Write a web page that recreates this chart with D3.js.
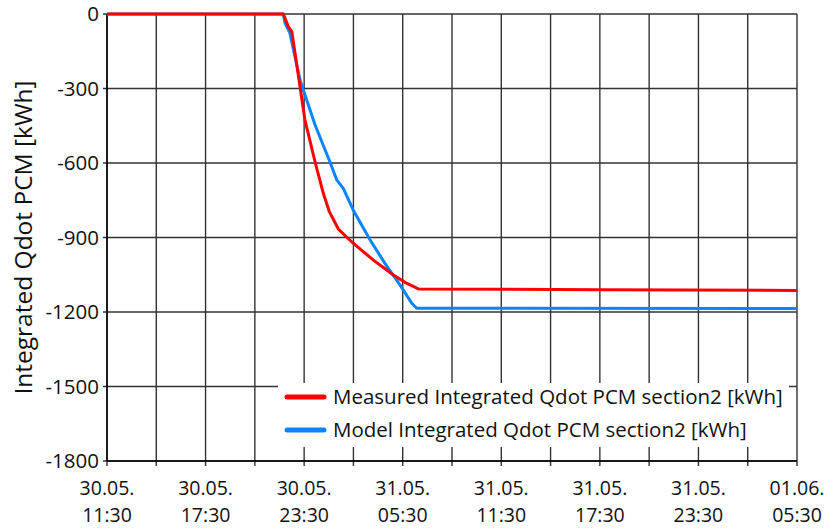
<!DOCTYPE html>
<html>
<head>
<meta charset="utf-8">
<script src="https://cdn.jsdelivr.net/npm/d3@7"></script>
<style>
  html, body { margin: 0; padding: 0; background: #fff; }
  svg { display: block; font-family: "Open Sans", "Noto Sans", sans-serif; }
</style>
</head>
<body>
<svg id="chart" width="837" height="529"></svg>
<script>
// Integrated heat flow of the PCM storage, section 2: measurement vs. model
const measuredTimes = [
  "2023-05-30T11:30", "2023-05-30T22:14", "2023-05-30T22:32", "2023-05-30T22:45",
  "2023-05-30T23:15", "2023-05-30T23:33", "2023-05-31T00:10", "2023-05-31T00:40",
  "2023-05-31T01:02", "2023-05-31T01:35", "2023-05-31T02:29", "2023-05-31T03:43",
  "2023-05-31T04:56", "2023-05-31T05:44", "2023-05-31T06:27", "2023-05-31T17:30",
  "2023-06-01T05:30"
];
const measuredValues = [
  0, 0, -51, -71,
  -293, -427, -596, -722,
  -796, -866, -923, -991,
  -1051, -1084, -1107, -1110,
  -1113
];
const modelTimes = [
  "2023-05-30T11:30", "2023-05-30T22:14", "2023-05-30T22:20", "2023-05-30T22:38",
  "2023-05-30T23:15", "2023-05-30T23:27", "2023-05-31T00:10", "2023-05-31T01:04",
  "2023-05-31T01:29", "2023-05-31T01:53", "2023-05-31T02:29", "2023-05-31T03:31",
  "2023-05-31T04:25", "2023-05-31T05:20", "2023-05-31T06:03", "2023-05-31T06:21",
  "2023-06-01T05:30"
];
const modelValues = [
  0, 0, -36, -77,
  -266, -306, -447, -595,
  -668, -702, -789, -910,
  -1004, -1091, -1165, -1185,
  -1186
];
const seriesNames = [
  "Measured Integrated Qdot PCM section2 [kWh]",
  "Model Integrated Qdot PCM section2 [kWh]"
];
const seriesColors = ["#ff0000", "#0a84ff"];
const yTicks = [0, -300, -600, -900, -1200, -1500, -1800];
const xLabelTimes = [
  "2023-05-30T11:30", "2023-05-30T17:30", "2023-05-30T23:30", "2023-05-31T05:30",
  "2023-05-31T11:30", "2023-05-31T17:30", "2023-05-31T23:30", "2023-06-01T05:30"
];
const yTitle = "Integrated Qdot PCM [kWh]";

const parse = d3.timeParse("%Y-%m-%dT%H:%M");
const svg = d3.select("#chart");
const margin = { left: 107, right: 40, top: 14, bottom: 68 };
const W = 837, H = 529;

const x = d3.scaleTime()
  .domain([parse(xLabelTimes[0]), parse(xLabelTimes[xLabelTimes.length - 1])])
  .range([margin.left, W - margin.right]);
const y = d3.scaleLinear()
  .domain([-1800, 0])
  .range([H - margin.bottom, margin.top]);

// 3-hourly grid aligned to the first label
const t0 = x.domain()[0];
const gridX = d3.range(0, 15).map(i => d3.timeHour.offset(t0, 3 * i));

const gridColor = "#333";

// vertical grid
svg.append("g").selectAll("line").data(gridX).join("line")
  .attr("x1", d => x(d)).attr("x2", d => x(d))
  .attr("y1", y(0)).attr("y2", y(-1800) + 5)
  .attr("stroke", gridColor).attr("stroke-width", 1.4);

// horizontal grid
svg.append("g").selectAll("line").data(yTicks).join("line")
  .attr("x1", x.range()[0] - 4).attr("x2", x.range()[1])
  .attr("y1", d => y(d)).attr("y2", d => y(d))
  .attr("stroke", gridColor).attr("stroke-width", 1.4);

// axis lines
svg.append("line")
  .attr("x1", x.range()[0]).attr("x2", x.range()[0])
  .attr("y1", y(0)).attr("y2", y(-1800))
  .attr("stroke", "#000").attr("stroke-width", 1.5);
svg.append("line")
  .attr("x1", x.range()[0]).attr("x2", x.range()[1])
  .attr("y1", y(-1800)).attr("y2", y(-1800))
  .attr("stroke", "#000").attr("stroke-width", 1.5);

// y tick labels
svg.append("g").selectAll("text").data(yTicks).join("text")
  .attr("x", 99).attr("y", d => y(d))
  .attr("dy", "0.36em")
  .attr("text-anchor", "end")
  .attr("font-size", 20.5)
  .attr("fill", "#111")
  .text(d => String(d));

// x tick labels, two lines
const fmtDay = d3.timeFormat("%d.%m.");
const fmtTime = d3.timeFormat("%H:%M");
const xl = svg.append("g").selectAll("g").data(xLabelTimes.map(parse)).join("g");
xl.append("text")
  .attr("x", d => x(d)).attr("y", 495)
  .attr("text-anchor", "middle").attr("font-size", 19.5).attr("fill", "#111")
  .text(d => fmtDay(d));
xl.append("text")
  .attr("x", d => x(d)).attr("y", 522)
  .attr("text-anchor", "middle").attr("font-size", 19.5).attr("fill", "#111")
  .text(d => fmtTime(d));

// y axis title
svg.append("text")
  .attr("transform", `translate(32,${(y(0) + y(-1800)) / 2}) rotate(-90)`)
  .attr("text-anchor", "middle")
  .attr("font-size", 24.5)
  .attr("fill", "#111")
  .text(yTitle);

// series
const series = [
  measuredTimes.map((t, i) => ({ t: parse(t), v: measuredValues[i] })),
  modelTimes.map((t, i) => ({ t: parse(t), v: modelValues[i] }))
];
const line = d3.line().x(d => x(d.t)).y(d => y(d.v));
// model first so the measured curve is on top
[1, 0].forEach(i => {
  svg.append("path")
    .datum(series[i])
    .attr("d", line)
    .attr("fill", "none")
    .attr("stroke", seriesColors[i])
    .attr("stroke-width", 3)
    .attr("stroke-linejoin", "round");
});

// legend
const lg = svg.append("g");
lg.append("rect")
  .attr("x", 278).attr("y", 383).attr("width", 511).attr("height", 64)
  .attr("fill", "#fff");
seriesNames.forEach((name, i) => {
  const cy = 397 + i * 33;
  lg.append("line")
    .attr("x1", 287).attr("x2", 324).attr("y1", cy).attr("y2", cy)
    .attr("stroke", seriesColors[i]).attr("stroke-width", 5)
    .attr("stroke-linecap", "round");
  lg.append("text")
    .attr("x", 333).attr("y", cy).attr("dy", "0.36em")
    .attr("font-size", 20.5).attr("fill", "#111")
    .text(name);
});
</script>
</body>
</html>
